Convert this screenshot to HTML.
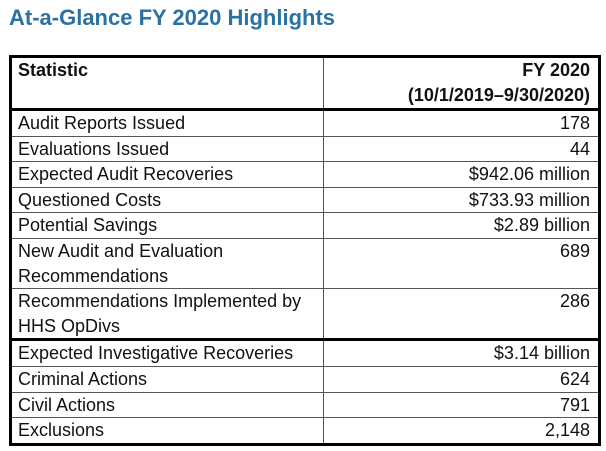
<!DOCTYPE html>
<html><head><style>
body{margin:0;background:#fff;width:606px;height:451px;overflow:hidden;font-family:"Liberation Sans",sans-serif;color:#111}
.t{position:absolute;left:9px;top:5px;font-size:22px;font-weight:bold;color:#2a72a3;}
table{position:absolute;left:9px;top:55px;width:592px;border-collapse:collapse;border:3px solid #000;font-size:18px}
td{border:1px solid #555;padding:0 8px 0 6px;height:24.6px;line-height:24.6px;vertical-align:top}
td.r{text-align:right;width:260px}
tr.h td{font-weight:bold;height:50px;line-height:25px;border-bottom:3px solid #000}
tr.k td{border-bottom:3px solid #000}
</style></head><body>
<div class="t">At-a-Glance FY 2020 Highlights</div>
<table>
<tr class="h"><td>Statistic</td><td class="r">FY 2020<br>(10/1/2019–9/30/2020)</td></tr>
<tr><td>Audit Reports Issued</td><td class="r">178</td></tr>
<tr><td>Evaluations Issued</td><td class="r">44</td></tr>
<tr><td>Expected Audit Recoveries</td><td class="r">$942.06 million</td></tr>
<tr><td>Questioned Costs</td><td class="r">$733.93 million</td></tr>
<tr><td>Potential Savings</td><td class="r">$2.89 billion</td></tr>
<tr><td>New Audit and Evaluation<br>Recommendations</td><td class="r">689</td></tr>
<tr class="k"><td>Recommendations Implemented by<br>HHS OpDivs</td><td class="r">286</td></tr>
<tr><td>Expected Investigative Recoveries</td><td class="r">$3.14 billion</td></tr>
<tr><td>Criminal Actions</td><td class="r">624</td></tr>
<tr><td>Civil Actions</td><td class="r">791</td></tr>
<tr><td>Exclusions</td><td class="r">2,148</td></tr>
</table>
</body></html>
